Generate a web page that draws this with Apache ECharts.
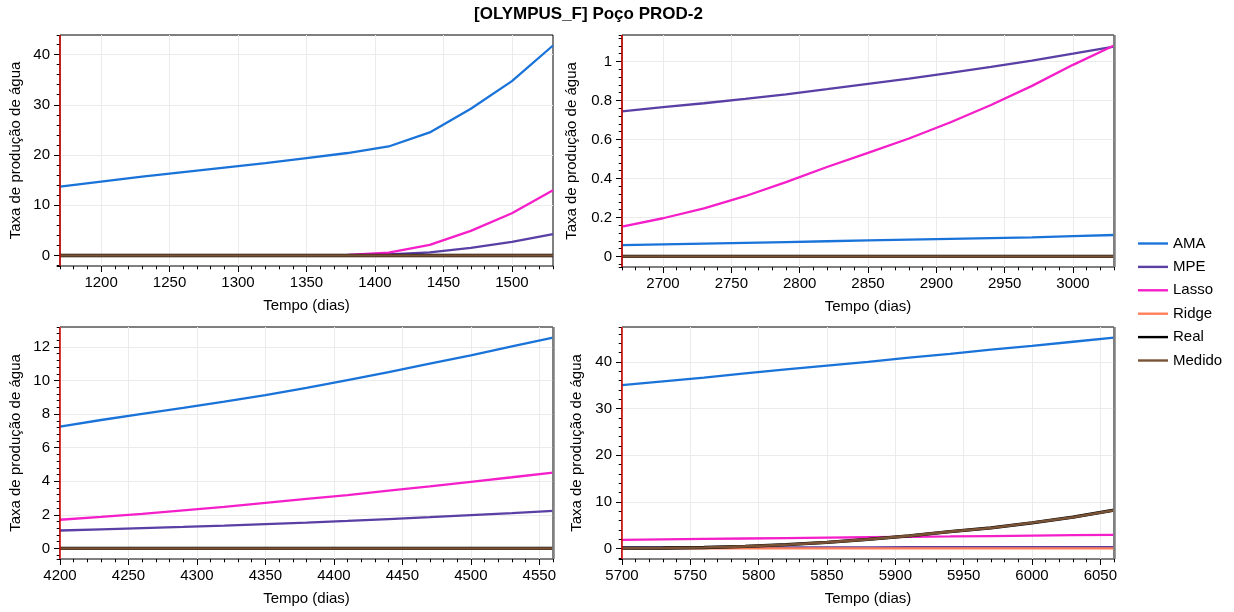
<!DOCTYPE html>
<html>
<head>
<meta charset="utf-8">
<script src="https://cdn.jsdelivr.net/npm/echarts@6/dist/echarts.min.js"></script>
<style>
  html, body { margin: 0; padding: 0; background: #ffffff; }
  #chart { width: 1234px; height: 612px; }
</style>
</head>
<body>
<div id="chart"></div>
<script>
// Series shared by the four windows
const seriesNames = ['AMA', 'MPE', 'Lasso', 'Ridge', 'Real', 'Medido'];
const seriesColors = ['#1a73d9', '#5a3fa5', '#f51fc9', '#ff7f5a', '#000000', '#7a5235'];

// Window 1
const days1   = [1170, 1200, 1230, 1260, 1290, 1320, 1350, 1380, 1410, 1440, 1470, 1500, 1530];
const ama1    = [13.7, 14.7, 15.7, 16.6, 17.5, 18.4, 19.4, 20.4, 21.7, 24.5, 29.2, 34.7, 41.8];
const mpe1    = [0, 0, 0, 0, 0, 0, 0.01, 0.05, 0.2, 0.62, 1.5, 2.7, 4.25];
const lasso1  = [0, 0, 0, 0, 0, 0.01, 0.03, 0.12, 0.55, 2.1, 4.9, 8.4, 13.0];
const ridge1  = [0, 0, 0, 0, 0, 0, 0, 0, 0, 0, 0, 0, 0];
const real1   = [0, 0, 0, 0, 0, 0, 0, 0, 0, 0, 0, 0, 0];
const medido1 = [0, 0, 0, 0, 0, 0, 0, 0, 0, 0, 0, 0, 0];
const xTicks1 = [1200, 1250, 1300, 1350, 1400, 1450, 1500];
const yTicks1 = [0, 10, 20, 30, 40];

// Window 2
const days2   = [2670, 2700, 2730, 2760, 2790, 2820, 2850, 2880, 2910, 2940, 2970, 3000, 3030];
const ama2    = [0.058, 0.062, 0.066, 0.070, 0.074, 0.078, 0.082, 0.086, 0.090, 0.094, 0.098, 0.104, 0.110];
const mpe2    = [0.744, 0.766, 0.786, 0.808, 0.832, 0.858, 0.885, 0.912, 0.942, 0.973, 1.005, 1.04, 1.077];
const lasso2  = [0.153, 0.196, 0.247, 0.309, 0.381, 0.459, 0.531, 0.605, 0.687, 0.777, 0.875, 0.983, 1.082];
const ridge2  = [0, 0, 0, 0, 0, 0, 0, 0, 0, 0, 0, 0, 0];
const real2   = [0, 0, 0, 0, 0, 0, 0, 0, 0, 0, 0, 0, 0];
const medido2 = [0, 0, 0, 0, 0, 0, 0, 0, 0, 0, 0, 0, 0];
const xTicks2 = [2700, 2750, 2800, 2850, 2900, 2950, 3000];
const yTicks2 = [0, 0.2, 0.4, 0.6, 0.8, 1];

// Window 3
const days3   = [4200, 4230, 4260, 4290, 4320, 4350, 4380, 4410, 4440, 4470, 4500, 4530, 4560];
const ama3    = [7.26, 7.65, 8.02, 8.37, 8.74, 9.13, 9.56, 10.03, 10.5, 11.0, 11.5, 12.03, 12.56];
const mpe3    = [1.07, 1.14, 1.21, 1.28, 1.36, 1.45, 1.54, 1.64, 1.75, 1.86, 1.98, 2.1, 2.24];
const lasso3  = [1.71, 1.88, 2.06, 2.27, 2.48, 2.72, 2.95, 3.18, 3.44, 3.7, 3.97, 4.24, 4.52];
const ridge3  = [0, 0, 0, 0, 0, 0, 0, 0, 0, 0, 0, 0, 0];
const real3   = [0, 0, 0, 0, 0, 0, 0, 0, 0, 0, 0, 0, 0];
const medido3 = [0, 0, 0, 0, 0, 0, 0, 0, 0, 0, 0, 0, 0];
const xTicks3 = [4200, 4250, 4300, 4350, 4400, 4450, 4500, 4550];
const yTicks3 = [0, 2, 4, 6, 8, 10, 12];

// Window 4
const days4   = [5700, 5730, 5760, 5790, 5820, 5850, 5880, 5910, 5940, 5970, 6000, 6030, 6060];
const ama4    = [35.0, 35.8, 36.6, 37.5, 38.4, 39.2, 40.0, 40.9, 41.7, 42.6, 43.4, 44.3, 45.2];
const mpe4    = [0.2, 0.21, 0.22, 0.22, 0.23, 0.24, 0.25, 0.26, 0.27, 0.27, 0.28, 0.29, 0.3];
const lasso4  = [1.86, 1.95, 2.04, 2.13, 2.22, 2.31, 2.4, 2.49, 2.57, 2.66, 2.75, 2.84, 2.93];
const ridge4  = [0, 0, 0, 0, 0, 0, 0, 0, 0, 0, 0, 0, 0];
const real4   = [0.05, 0.1, 0.2, 0.45, 0.8, 1.3, 1.95, 2.7, 3.6, 4.4, 5.5, 6.7, 8.2];
const medido4 = [0.05, 0.1, 0.2, 0.45, 0.8, 1.3, 1.95, 2.7, 3.6, 4.4, 5.5, 6.7, 8.2];
const xTicks4 = [5700, 5750, 5800, 5850, 5900, 5950, 6000, 6050];
const yTicks4 = [0, 10, 20, 30, 40];

const panels = [
  { days: days1, values: [ama1, mpe1, lasso1, ridge1, real1, medido1], xTicks: xTicks1, yTicks: yTicks1 },
  { days: days2, values: [ama2, mpe2, lasso2, ridge2, real2, medido2], xTicks: xTicks2, yTicks: yTicks2 },
  { days: days3, values: [ama3, mpe3, lasso3, ridge3, real3, medido3], xTicks: xTicks3, yTicks: yTicks3 },
  { days: days4, values: [ama4, mpe4, lasso4, ridge4, real4, medido4], xTicks: xTicks4, yTicks: yTicks4 }
];

// Plot layout and tick spacing for each window
const layout = [
  { left: 60,  top: 35,  width: 493, height: 231, yStep: 10,  yMinor: 2,    nameGap: 37, endLine: false },
  { left: 622, top: 35,  width: 492, height: 232, yStep: 0.2, yMinor: 0.04, nameGap: 43, endLine: true },
  { left: 60,  top: 327, width: 493, height: 232, yStep: 2,   yMinor: 0.4,  nameGap: 37, endLine: true },
  { left: 622, top: 327, width: 492, height: 232, yStep: 10,  yMinor: 2,    nameGap: 38, endLine: true }
];

const FONT = 'Liberation Sans, Arial, sans-serif';
const lineWidths = [2.3, 2.3, 2.3, 2.3, 3.3, 2.6];
const gridColor = '#ebebeb';
const plain = v => String(v);

const grids = [], xAxes = [], yAxes = [], series = [];

panels.forEach((p, i) => {
  const L = layout[i];
  grids.push({ left: L.left, top: L.top, width: L.width, height: L.height,
               show: true, borderColor: '#000', borderWidth: 1, backgroundColor: 'transparent' });

  const xMin = p.days[0], xMax = p.days[p.days.length - 1];
  let lo = Infinity, hi = -Infinity;
  p.values.forEach(v => v.forEach(y => { lo = Math.min(lo, y); hi = Math.max(hi, y); }));
  const pad = (hi - lo) * 0.05;
  const yMin = lo - pad, yMax = hi + pad;

  // main x axis: labels, major ticks, grid lines
  xAxes.push({
    type: 'value', gridIndex: i, position: 'bottom', min: xMin, max: xMax,
    minInterval: 50, maxInterval: 50,
    axisLine: { show: false, onZero: false },
    axisTick: { show: true, length: 6, lineStyle: { color: '#000', width: 1 }, customValues: p.xTicks },
    axisLabel: { show: true, customValues: p.xTicks, formatter: plain, margin: 9,
                 fontSize: 15, color: '#000', fontFamily: FONT },
    splitLine: { show: true, lineStyle: { color: gridColor, width: 1 } },
    name: 'Tempo (dias)', nameLocation: 'middle', nameGap: 32,
    nameTextStyle: { fontSize: 15, color: '#000', fontFamily: FONT }
  });
  // minor x ticks
  xAxes.push({
    type: 'value', gridIndex: i, position: 'bottom', min: xMin, max: xMax,
    minInterval: 10, maxInterval: 10,
    axisLine: { show: false, onZero: false },
    axisTick: { show: true, length: 3.3, lineStyle: { color: '#000', width: 1 } },
    axisLabel: { show: false }, splitLine: { show: false }
  });
  // main y axis
  yAxes.push({
    type: 'value', gridIndex: i, position: 'left', min: yMin, max: yMax,
    minInterval: L.yStep, maxInterval: L.yStep,
    axisLine: { show: false, onZero: false },
    axisTick: { show: true, length: 6, lineStyle: { color: '#000', width: 1 }, customValues: p.yTicks },
    axisLabel: { show: true, customValues: p.yTicks, formatter: plain, margin: 10,
                 fontSize: 15, color: '#000', fontFamily: FONT },
    splitLine: { show: true, lineStyle: { color: gridColor, width: 1 } },
    name: 'Taxa de produção de água', nameLocation: 'middle', nameGap: L.nameGap, nameRotate: 90,
    nameTextStyle: { fontSize: 15, color: '#000', fontFamily: FONT }
  });
  // minor y ticks
  yAxes.push({
    type: 'value', gridIndex: i, position: 'left', min: yMin, max: yMax,
    minInterval: L.yMinor, maxInterval: L.yMinor,
    axisLine: { show: false, onZero: false },
    axisTick: { show: true, length: 3.3, lineStyle: { color: '#000', width: 1 } },
    axisLabel: { show: false }, splitLine: { show: false }
  });

  const marks = [{ xAxis: xMin, lineStyle: { color: '#d40000', width: 1.5, type: 'solid' } }];
  if (L.endLine) marks.push({ xAxis: xMax, lineStyle: { color: '#808080', width: 2.5, type: 'solid' } });

  seriesNames.forEach((name, s) => {
    const item = {
      name, type: 'line', xAxisIndex: 2 * i, yAxisIndex: 2 * i,
      data: p.days.map((d, k) => [d, p.values[s][k]]),
      showSymbol: false, symbol: 'none', clip: true, z: 3 + s,
      lineStyle: { color: seriesColors[s], width: lineWidths[s] },
      itemStyle: { color: seriesColors[s] },
      emphasis: { disabled: true }
    };
    if (s === 0) {
      item.markLine = { silent: true, symbol: ['none', 'none'], label: { show: false },
                        animation: false, z: 20, data: marks };
    }
    series.push(item);
  });
});

const chart = echarts.init(document.getElementById('chart'), null, { renderer: 'canvas' });
chart.setOption({
  animation: false,
  backgroundColor: '#ffffff',
  title: {
    text: '[OLYMPUS_F] Poço PROD-2', left: 474, top: 6, padding: 0,
    textStyle: { fontSize: 17, fontWeight: 'bold', color: '#000', fontFamily: FONT }
  },
  legend: {
    data: seriesNames, orient: 'vertical', left: 1133, top: 231,
    itemWidth: 30, itemHeight: 14, itemGap: 8.4, icon: 'path://M0,0 L30,0 L30,2.4 L0,2.4 Z',
    textStyle: { fontSize: 15, color: '#000', fontFamily: FONT, padding: [0, 0, 0, 0] }
  },
  grid: grids, xAxis: xAxes, yAxis: yAxes, series
});
</script>
</body>
</html>
